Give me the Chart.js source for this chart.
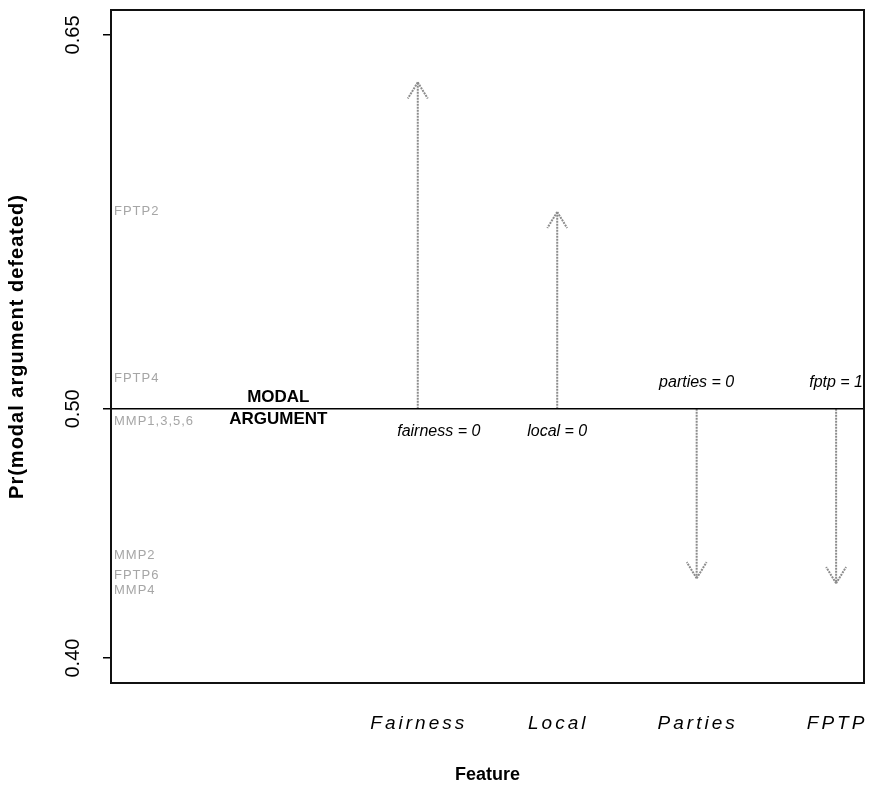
<!DOCTYPE html>
<html>
<head>
<meta charset="utf-8">
<title>Pr(modal argument defeated) by feature</title>
<script src="https://cdn.jsdelivr.net/npm/chart.js@4.4.1/dist/chart.umd.min.js"></script>
<style>
  html, body { margin: 0; padding: 0; background: #fff; }
  #wrap { width: 874px; height: 790px; position: relative; }
</style>
</head>
<body>
<div id="wrap"><canvas id="modalChart"></canvas></div>
<script>
// feature effects relative to the modal argument
const features = ['Fairness', 'Local', 'Parties', 'FPTP'];
const featurePos = [1, 2, 3, 4];
const baseline = 0.5;
const effects = [0.631, 0.579, 0.432, 0.430];
const effectLabels = ['fairness = 0', 'local = 0', 'parties = 0', 'fptp = 1'];

const yTicks = [0.40, 0.50, 0.65];
const xRange = [-1.2, 4.2];
const yRange = [0.39, 0.66];

// faint profile labels along the left edge
const profileLabels = ['FPTP2', 'FPTP4', 'MMP1,3,5,6', 'MMP2', 'FPTP6', 'MMP4'];
const profileValues = [0.579, 0.512, 0.495, 0.441, 0.433, 0.427];

const FONT = "'Liberation Sans', Arial, Helvetica, sans-serif";
Chart.defaults.font.family = FONT;
Chart.defaults.color = '#000';

const arrowColor = '#8c8c8c';

const arrowSets = features.map((f, i) => ({
    label: f,
    data: [{x: featurePos[i], y: baseline}, {x: featurePos[i], y: effects[i]}],
    showLine: true,
    borderColor: arrowColor,
    borderWidth: 2,
    borderDash: [2, 1],
    pointRadius: 0,
    arrow: true
}));

const baseSet = {
    label: 'modal',
    data: [{x: xRange[0], y: baseline}, {x: xRange[1], y: baseline}],
    showLine: true,
    borderColor: '#000',
    borderWidth: 1.5,
    pointRadius: 0
};

function txt(ctx, s, x, y, font, color, align) {
    ctx.font = font;
    ctx.fillStyle = color || '#000';
    ctx.textAlign = align || 'center';
    ctx.textBaseline = 'middle';
    ctx.fillText(s, x, y);
}

const decor = {
    id: 'decor',
    afterDatasetsDraw(chart) {
        const ctx = chart.ctx;
        chart.data.datasets.forEach((ds, di) => {
            if (!ds.arrow) return;
            const pts = chart.getDatasetMeta(di).data;
            const a = pts[0], b = pts[1];
            const ang = Math.atan2(b.y - a.y, b.x - a.x);
            ctx.save();
            ctx.strokeStyle = ds.borderColor;
            ctx.lineWidth = 2;
            ctx.setLineDash([2, 1]);
            [-1, 1].forEach(s => {
                ctx.beginPath();
                ctx.moveTo(b.x, b.y);
                ctx.lineTo(b.x - 19 * Math.cos(ang + s * 0.55), b.y - 19 * Math.sin(ang + s * 0.55));
                ctx.stroke();
            });
            ctx.restore();
        });
    },
    afterDraw(chart) {
        const ctx = chart.ctx;
        const xs = chart.scales.x, ys = chart.scales.y;
        const area = chart.chartArea;
        const y0 = ys.getPixelForValue(baseline);
        ctx.save();

        // plot box
        ctx.strokeStyle = '#111';
        ctx.lineWidth = 2;
        ctx.strokeRect(area.left, area.top, area.right - area.left, area.bottom - area.top);

        // y tick labels, rotated like base R
        yTicks.forEach(v => {
            ctx.save();
            ctx.translate(73, ys.getPixelForValue(v));
            ctx.rotate(-Math.PI / 2);
            txt(ctx, v.toFixed(2), 0, 0, '20px ' + FONT);
            ctx.restore();
        });

        // y axis title
        ctx.save();
        ctx.translate(17, (area.top + area.bottom) / 2);
        ctx.rotate(-Math.PI / 2);
        ctx.letterSpacing = '1px';
        txt(ctx, 'Pr(modal argument defeated)', 0, 0, 'bold 20px ' + FONT);
        ctx.restore();

        // feature names under the box
        ctx.letterSpacing = '3px';
        features.forEach((f, i) => {
            txt(ctx, f, xs.getPixelForValue(featurePos[i]) + 1, 724, 'italic 19px ' + FONT);
        });
        ctx.letterSpacing = '0px';

        // modal argument tag
        const xm = xs.getPixelForValue(0);
        txt(ctx, 'MODAL', xm, y0 - 12, 'bold 17px ' + FONT);
        txt(ctx, 'ARGUMENT', xm, y0 + 10, 'bold 17px ' + FONT);

        // value of each feature at the arrow foot
        effectLabels.forEach((s, i) => {
            const up = effects[i] > baseline;
            const shift = i === 0 ? 21 : 0;
            txt(ctx, s, xs.getPixelForValue(featurePos[i]) + shift, up ? y0 + 23 : y0 - 26, 'italic 16px ' + FONT);
        });

        // faint profile names
        ctx.letterSpacing = '1px';
        profileLabels.forEach((s, i) => {
            txt(ctx, s, area.left + 3, ys.getPixelForValue(profileValues[i]), '13px ' + FONT, '#a6a6a6', 'left');
        });
        ctx.restore();
    }
};

new Chart(document.getElementById('modalChart'), {
    type: 'scatter',
    data: { datasets: [baseSet].concat(arrowSets) },
    options: {
        responsive: true,
        maintainAspectRatio: false,
        animation: false,
        layout: { padding: { top: 10, right: 10, left: 0, bottom: 0 } },
        plugins: { legend: { display: false }, tooltip: { enabled: false } },
        scales: {
            x: {
                type: 'linear',
                min: xRange[0],
                max: xRange[1],
                grid: { display: false },
                border: { display: false },
                ticks: { display: false },
                title: { display: true, text: 'Feature', font: { size: 18, weight: 'bold' }, padding: { bottom: 4 } },
                afterFit: s => { s.height = 107; }
            },
            y: {
                type: 'linear',
                min: yRange[0],
                max: yRange[1],
                afterBuildTicks: s => { s.ticks = yTicks.map(v => ({ value: v })); },
                grid: { drawOnChartArea: false, drawTicks: true, tickLength: 8, color: '#000', lineWidth: 1.5 },
                border: { display: false },
                ticks: { display: false },
                title: { display: false },
                afterFit: s => { s.width = 111; }
            }
        }
    },
    plugins: [decor]
});
</script>
</body>
</html>
